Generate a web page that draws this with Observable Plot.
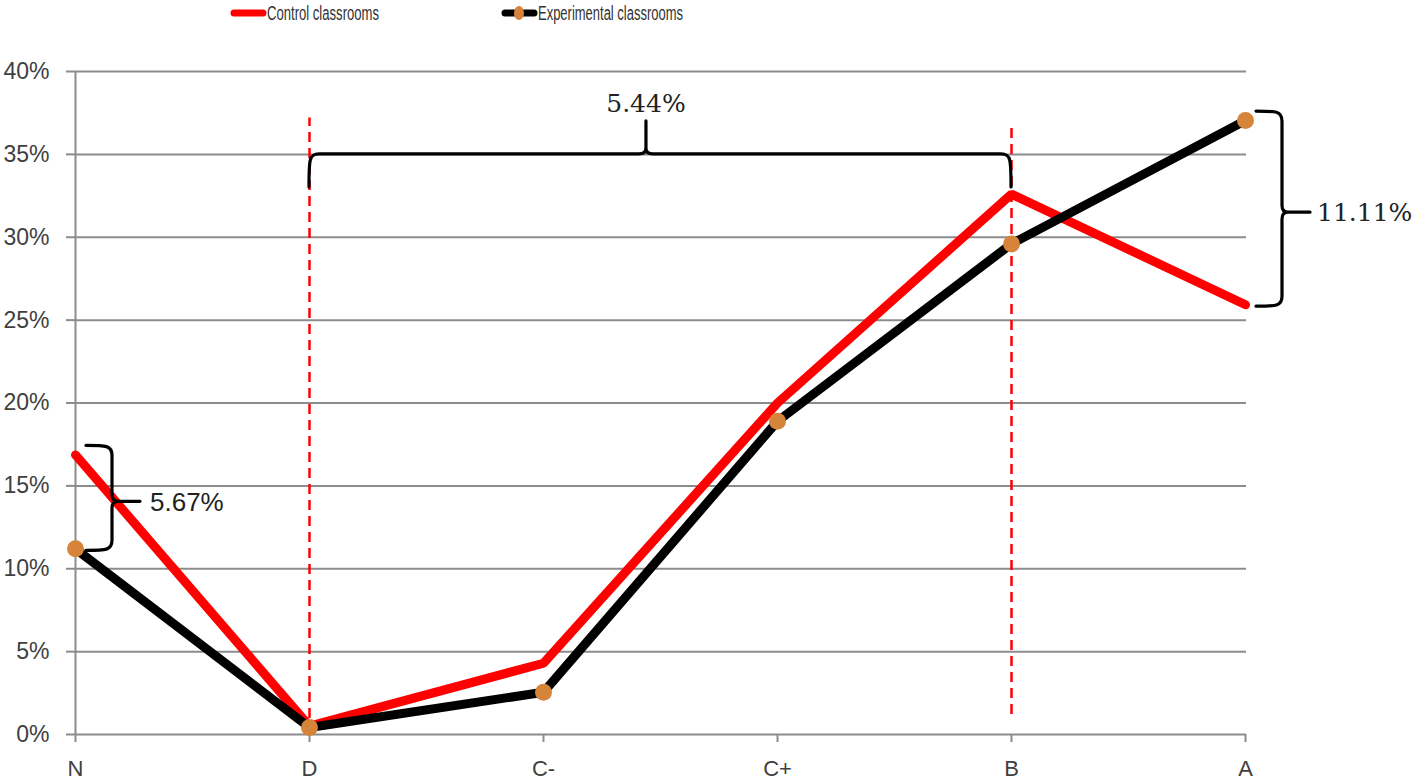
<!DOCTYPE html>
<html>
<head>
<meta charset="utf-8">
<script src="https://cdn.jsdelivr.net/npm/d3@7"></script>
<script src="https://cdn.jsdelivr.net/npm/@observablehq/plot@0.6"></script>
<style>
  html, body { margin: 0; padding: 0; background: #fff; }
  #wrap { width: 1418px; height: 782px; overflow: hidden; }
  #legend { height: 28px; }
  #legend svg { display: block; }
</style>
</head>
<body>
<div id="wrap">
  <div id="legend"></div>
  <div id="chart"></div>
</div>
<script>
// ---- data ----
const grades = ["N", "D", "C-", "C+", "B", "A"];
const controlValues = [16.87, 0.5, 4.3, 20.0, 32.6, 25.93];
const experimentalValues = [11.2, 0.42, 2.55, 18.9, 29.6, 37.04];
const seriesNames = ["Control classrooms", "Experimental classrooms"];
const yTicks = [0, 5, 10, 15, 20, 25, 30, 35, 40];

// annotations
const dashedGrades = ["D", "B"];
const dashedTop = [37.2, 36.8];
const dashedBottom = [0, 1.2];
const vBraceGrades = ["N", "A"];
const vBraceLabels = ["5.67%", "11.11%"];
const hBraceFrom = "D";
const hBraceTo = "B";
const hBraceLevel = 35;
const hBraceLabel = "5.44%";

// ---- styles ----
const RED = "#ff0000";
const BLACK = "#000000";
const ORANGE = "#d5843a";
const GRID = "#8c8c8c";
const TEXT = "#404040";

const control = grades.map((g, i) => ({grade: g, value: controlValues[i]}));
const experimental = grades.map((g, i) => ({grade: g, value: experimentalValues[i]}));
const dashed = dashedGrades.map((g, i) => ({grade: g, top: dashedTop[i], bottom: dashedBottom[i]}));

// ---- legend ----
{
  const lg = d3.select("#legend").append("svg").attr("width", 1418).attr("height", 28);
  const items = [
    {x: 231, name: seriesNames[0], stroke: RED, dot: false, len: 112},
    {x: 502, name: seriesNames[1], stroke: BLACK, dot: true, len: 145}
  ];
  for (const it of items) {
    lg.append("line").attr("x1", it.x + 3).attr("x2", it.x + 32).attr("y1", 13).attr("y2", 13)
      .attr("stroke", it.stroke).attr("stroke-width", 7).attr("stroke-linecap", "round");
    if (it.dot) lg.append("ellipse").attr("cx", it.x + 17).attr("cy", 13).attr("rx", 5).attr("ry", 7).attr("fill", ORANGE);
    lg.append("text").attr("x", it.x + 36).attr("y", 20)
      .attr("font-family", "'Liberation Sans', Arial, sans-serif")
      .attr("textLength", it.len).attr("lengthAdjust", "spacingAndGlyphs")
      .attr("font-size", 20).attr("fill", "#333").text(it.name);
  }
}

// ---- braces (drawn from data through the scales) ----
function braceMark(index, scales) {
  const X = scales.x, Y = scales.y;
  const g = d3.create("svg:g").attr("fill", "none").attr("stroke", BLACK)
    .attr("stroke-width", 3.2).attr("stroke-linecap", "round");
  // vertical braces
  vBraceGrades.forEach((gr, k) => {
    const i = grades.indexOf(gr);
    const hi = Math.max(controlValues[i], experimentalValues[i]);
    const lo = Math.min(controlValues[i], experimentalValues[i]);
    const x = X(gr) + 37;
    const y1 = Y(hi) - 9, y2 = Y(lo) + 2, ym = Y((hi + lo) / 2);
    const p = `M${x - 26},${y1} C${x - 6},${y1} ${x},${y1} ${x},${y1 + 10}`
      + ` L${x},${ym - 7} Q${x},${ym} ${x + 6},${ym} Q${x},${ym} ${x},${ym + 7}`
      + ` L${x},${y2 - 10} C${x},${y2} ${x - 6},${y2} ${x - 26},${y2}`
      + ` M${x + 4},${ym} L${x + 28},${ym}`;
    g.append("path").attr("d", p);
  });
  // horizontal brace
  const xs = X(hBraceFrom), xe = X(hBraceTo), y = Y(hBraceLevel);
  const xm = xs + 0.48 * (xe - xs);
  const hp = `M${xs},${y + 33} C${xs},${y + 6} ${xs},${y} ${xs + 10},${y}`
    + ` L${xm - 7},${y} Q${xm},${y} ${xm},${y - 6} Q${xm},${y} ${xm + 7},${y}`
    + ` L${xe - 10},${y} C${xe},${y} ${xe},${y + 6} ${xe},${y + 33}`
    + ` M${xm},${y - 4} L${xm},${y - 33}`;
  g.append("path").attr("d", hp);
  // labels
  const t = g.append("g").attr("stroke", "none").attr("fill", "#222");
  vBraceGrades.forEach((gr, k) => {
    const i = grades.indexOf(gr);
    const ym = Y((controlValues[i] + experimentalValues[i]) / 2);
    const serif = k === 1;
    t.append("text").attr("x", X(gr) + (serif ? 72 : 75)).attr("y", ym).attr("dy", "0.36em")
      .attr("text-anchor", "start")
      .attr("font-family", serif ? "'DejaVu Serif', serif" : "'Liberation Sans', Arial, sans-serif")
      .attr("font-size", serif ? 25 : 26).text(vBraceLabels[k]);
  });
  t.append("text").attr("x", xm).attr("y", y - 42).attr("text-anchor", "middle")
    .attr("font-family", "'DejaVu Serif', serif").attr("font-size", 25).text(hBraceLabel);
  return g.node();
}

const chart = Plot.plot({
  width: 1418,
  height: 754,
  marginTop: 43,
  marginBottom: 48,
  marginLeft: 74,
  marginRight: 172,
  style: {background: "#fff", overflow: "visible"},
  x: {type: "point", domain: grades, padding: 0},
  y: {domain: [0, 40]},
  marks: [
    Plot.ruleY(yTicks, {stroke: GRID, strokeWidth: 2}),
    Plot.ruleX([grades[0]], {y1: 0, y2: 40, stroke: GRID, strokeWidth: 2}),
    Plot.axisY({ticks: yTicks, tickSize: 8, tickPadding: 17, tickFormat: d => d + "%",
      stroke: GRID, strokeWidth: 2, fill: TEXT, fontSize: 23,
      fontFamily: "'Liberation Sans', Arial, sans-serif", label: null}),
    Plot.axisX({tickSize: 8, tickPadding: 18, stroke: GRID, strokeWidth: 2, fill: TEXT,
      fontSize: 22, fontFamily: "'Liberation Sans', Arial, sans-serif", label: null}),
    Plot.ruleX(dashed, {x: "grade", y1: "bottom", y2: "top", stroke: RED, strokeWidth: 2.5, strokeDasharray: "10,6"}),
    Plot.line(control, {x: "grade", y: "value", stroke: RED, strokeWidth: 9, strokeLinejoin: "miter"}),
    Plot.line(experimental, {x: "grade", y: "value", stroke: BLACK, strokeWidth: 9, strokeLinejoin: "miter"}),
    Plot.dot(experimental, {x: "grade", y: "value", r: 8.5, fill: ORANGE, stroke: "none"}),
    braceMark
  ]
});
document.getElementById("chart").appendChild(chart);
</script>
</body>
</html>
